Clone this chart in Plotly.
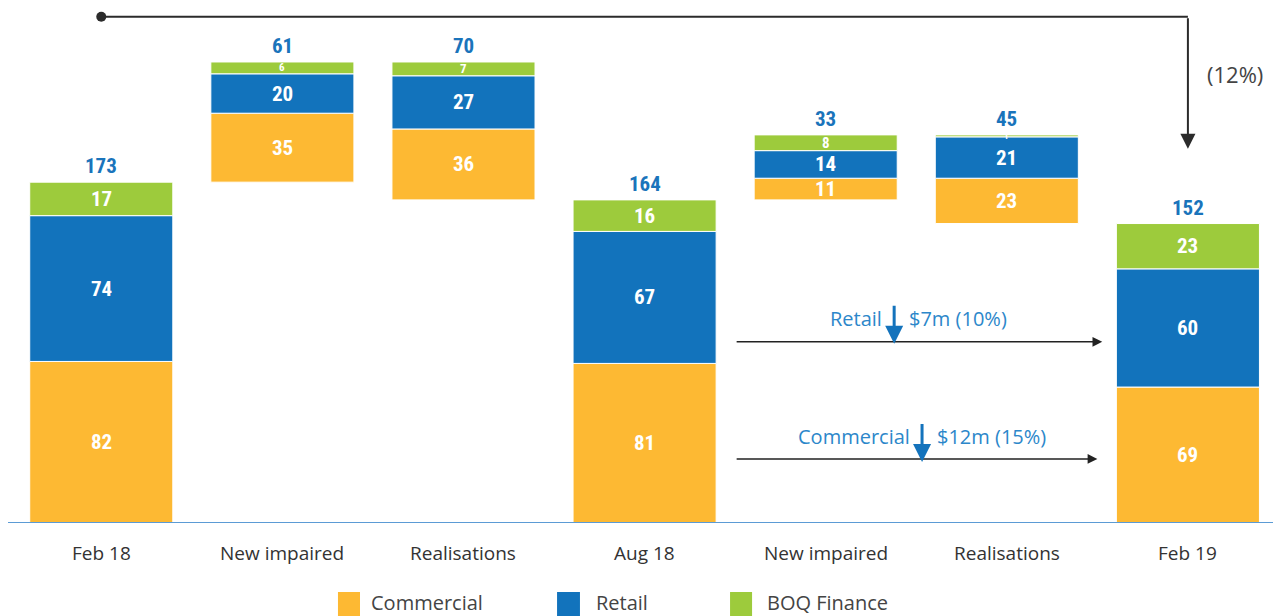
import plotly.graph_objects as go

categories = ["Feb 18", "New impaired", "Realisations", "Aug 18", "New impaired", "Realisations", "Feb 19"]
kinds = ["total", "up", "down", "total", "up", "down", "total"]
commercial = [82, 35, 36, 81, 11, 23, 69]
retail = [74, 20, 27, 67, 14, 21, 60]
boq_finance = [17, 6, 7, 16, 8, 1, 23]
totals = [173, 61, 70, 164, 33, 45, 152]

C_COM = "#FDB933"
C_RET = "#1273BC"
C_BOQ = "#9DCB3C"
C_LBL = "#1A74BB"

# waterfall bases
bases = []
level = 0
for k, t in zip(kinds, totals):
    if k == "total":
        bases.append(0)
        level = t
    elif k == "up":
        bases.append(level)
        level += t
    else:
        level -= t
        bases.append(level)

x = list(range(len(categories)))
b_com = bases
b_ret = [b + c for b, c in zip(bases, commercial)]
b_boq = [b + c + r for b, c, r in zip(bases, commercial, retail)]

fig = go.Figure()
W = 0.79
for name, vals, base, col in [("Commercial", commercial, b_com, C_COM),
                              ("Retail", retail, b_ret, C_RET),
                              ("BOQ Finance", boq_finance, b_boq, C_BOQ)]:
    fig.add_trace(go.Bar(x=x, y=vals, base=base, name=name, width=W,
                         marker=dict(color=col, line=dict(color="white", width=1)),
                         showlegend=False, hoverinfo="skip"))

BOLD = "Liberation Sans Narrow, Roboto Condensed, Roboto, sans-serif"
LIGHT = "Open Sans, Lato, sans-serif"
ann = []
# segment labels (font shrinks for thin segments)
for vals, base in [(commercial, b_com), (retail, b_ret), (boq_finance, b_boq)]:
    for i, (v, b) in enumerate(zip(vals, base)):
        fs = 21 if v >= 10 else max(9, round(v * 1.9))
        ann.append(dict(x=i, y=b + v / 2, text=f"<b>{v}</b>", showarrow=False,
                        font=dict(family=BOLD, size=fs, color="white"),
                        xanchor="center", yanchor="middle", borderpad=0))
# totals
for i, (t, b) in enumerate(zip(totals, bases)):
    ann.append(dict(x=i, y=b + t, text=f"<b>{t}</b>", showarrow=False,
                    font=dict(family=BOLD, size=21, color=C_LBL),
                    xanchor="center", yanchor="bottom", yshift=3, borderpad=0))
# category labels
for i, c in enumerate(categories):
    ann.append(dict(x=i, y=-0.0583, yref="paper", text=c, showarrow=False,
                    font=dict(family=LIGHT, size=19, color="#333333"),
                    xanchor="center", yanchor="middle"))

# top connector Feb 18 -> Feb 19
Y_TOP = 257
ann.append(dict(x=6, y=totals[6] + 38, ax=6, ay=Y_TOP, axref="x", ayref="y",
                text="", showarrow=True, arrowhead=2, arrowsize=1.5, arrowwidth=2,
                arrowcolor="#2b2b2b", standoff=0))
ann.append(dict(x=6.26, y=228, text="(12%)", showarrow=False,
                font=dict(family=LIGHT, size=22, color="#444444"),
                xanchor="center", yanchor="middle"))

# horizontal arrows Aug 18 -> Feb 19
for (yv, xend) in [(92, 5.527), (32.5, 5.50)]:
    ann.append(dict(x=xend, y=yv, ax=3.50, ay=yv, axref="x", ayref="y",
                    text="", showarrow=True, arrowhead=2, arrowsize=1.3, arrowwidth=1.5,
                    arrowcolor="#222222", standoff=0))
# retail / commercial change notes
notes = [("Retail", "$7m (10%)", 4.378, 104),
         ("Commercial", "$12m (15%)", 4.532, 44)]
for lbl, chg, xa, yc in notes:
    ann.append(dict(x=xa - 0.055, y=yc, text=lbl, showarrow=False, xanchor="right",
                    yanchor="middle", font=dict(family=LIGHT, size=20, color="#2C87CA")))
    ann.append(dict(x=xa + 0.07, y=yc, text=chg, showarrow=False, xanchor="left",
                    yanchor="middle", font=dict(family=LIGHT, size=20, color="#2C87CA")))
    ann.append(dict(x=xa, y=yc - 13, ax=xa, ay=yc + 7, axref="x", ayref="y",
                    text="", showarrow=True, arrowhead=2, arrowsize=1.2, arrowwidth=3,
                    arrowcolor="#1473BC", standoff=0))

# legend (manual)
leg = [("Commercial", C_COM, 0.2592, 0.2765, 0.2844),
       ("Retail", C_RET, 0.4313, 0.4493, 0.4611),
       ("BOQ Finance", C_BOQ, 0.5672, 0.5845, 0.5954)]
shapes = []
for name, col, x0, x1, xt in leg:
    shapes.append(dict(type="rect", xref="paper", yref="paper", x0=x0, x1=x1,
                       y0=-0.1340, y1=-0.185, fillcolor=col, line=dict(width=0)))
    ann.append(dict(x=xt, y=-0.1535, xref="paper", yref="paper", text=name,
                    showarrow=False, xanchor="left", yanchor="middle", borderpad=0,
                    font=dict(family=LIGHT, size=20, color="#444444")))

shapes += [
    dict(type="line", x0=0, x1=6, y0=Y_TOP, y1=Y_TOP, line=dict(color="#2b2b2b", width=2)),
    dict(type="circle", xsizemode="pixel", ysizemode="pixel", xanchor=0, yanchor=Y_TOP,
         x0=-5, x1=5, y0=-5, y1=5, fillcolor="#2b2b2b", line=dict(width=0)),
    dict(type="line", xref="paper", x0=0, x1=1, y0=0, y1=0,
         line=dict(color="#5B9BD5", width=2), layer="above"),
]

fig.update_layout(
    width=1273, height=608,
    margin=dict(l=0, r=0, t=0, b=93),
    barmode="overlay",
    plot_bgcolor="white", paper_bgcolor="white",
    xaxis=dict(range=[-0.515, 6.514], showticklabels=False, showgrid=False,
               zeroline=False, showline=False, fixedrange=True),
    yaxis=dict(range=[0, 261.4], visible=False, fixedrange=True),
    annotations=ann, shapes=shapes,
)

fig.write_html("out.html")
